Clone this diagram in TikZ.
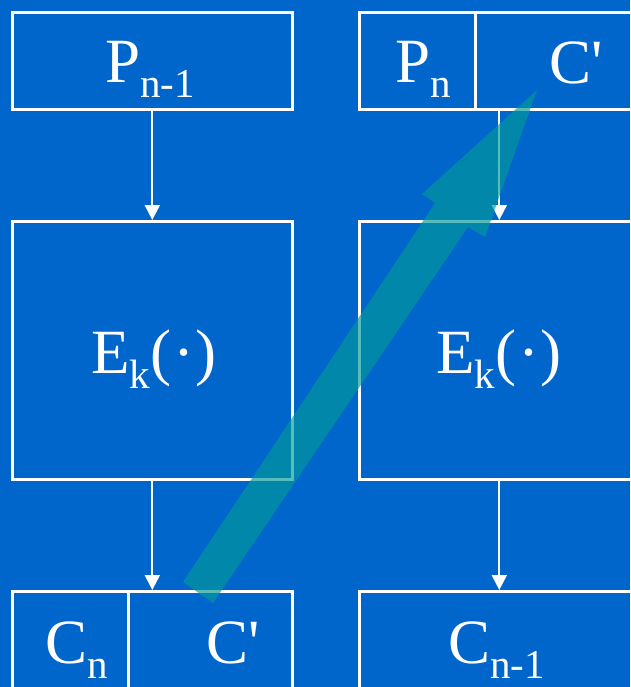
\documentclass[tikz,border=0pt]{standalone}
\usepackage{fontspec}
\newfontfamily\slidefont{Liberation Serif}
\usetikzlibrary{arrows.meta,positioning}

\definecolor{slideblue}{RGB}{0,102,204}
\definecolor{hintteal}{RGB}{0,153,153}
\newcommand{\lowsub}[1]{\raisebox{-15pt}{\fontsize{41}{41}\selectfont #1}}

\begin{document}
\begin{tikzpicture}[
    x=1pt, y=-1pt,
    block/.style={
      draw=white,
      line width=2.6pt,
      inner sep=0pt,
      anchor=north west
    },
    txt/.style={
      text=white,
      inner sep=0pt,
      anchor=base west,
      font=\slidefont\fontsize{63}{63}\selectfont
    },
    flow/.style={-{Triangle[width=15pt,length=15pt]}, draw=white, fill=white, line width=2pt},
    hint/.style={fill=hintteal, fill opacity=0.65}
  ]
    \useasboundingbox (0,0) rectangle (630,687);
    \clip (0,0) rectangle (630,687);
    \fill[slideblue] (0,0) rectangle (630,687);

    % top row
    \node[block, minimum width=280pt, minimum height=97pt] (pprev) at (11,11) {};
    \node[block, minimum width=116pt, minimum height=97pt] (pcur) at (358,11) {};
    \node[block, minimum width=198pt, minimum height=97pt] (ctop) at (474,11) {};

    % encryption
    \node[block, minimum width=280pt, minimum height=258pt] (enc1) at (11,220) {};
    \node[block, minimum width=280pt, minimum height=258pt] (enc2) at (358,220) {};

    % bottom row
    \node[block, minimum width=116pt, minimum height=110pt] (cnb) at (11,590) {};
    \node[block, minimum width=164pt, minimum height=110pt] (cb) at (127,590) {};
    \node[block, minimum width=280pt, minimum height=110pt] (cprev) at (358,590) {};

    \draw[flow] (pprev) -- (enc1);
    \draw[flow] (enc2.north |- pcur.south) -- (enc2.north);
    \draw[flow] (enc1.south) -- (enc1.south |- cb.north);
    \draw[flow] (enc2) -- (cprev);

    \node[txt] (pprevtxt) at (105,83) {P\lowsub{n-1}};
    \node[txt] (pcurtxt) at (395,83) {P\lowsub{n}};
    \node[txt] (ctoptxt) at (549,84) {C'};
    \node[txt] (enc1txt) at (91,373) {E\lowsub{k}(\hspace{2pt}·\hspace{1pt})};
    \node[txt] (enc2txt) at (436,373) {E\lowsub{k}(\hspace{2pt}·\hspace{1pt})};
    \node[txt] (cnbtxt) at (45,663) {C\lowsub{n}};
    \node[txt] (cbtxt) at (206,663) {C'};
    \node[txt] (cprevtxt) at (448,663) {C\lowsub{n-1}};

    % swap hint
    \coordinate (tailL) at (183,582);
    \coordinate (tailR) at (213,603);
    \coordinate (shaftR) at (468,227);
    \coordinate (headR) at (485,237);
    \coordinate (tip) at (537,90);
    \coordinate (headL) at (422,194);
    \coordinate (shaftL) at (435,203);
    \fill[hint] (tailL) -- (tailR) -- (shaftR) -- (headR) -- (tip) -- (headL) -- (shaftL) -- cycle;
  \end{tikzpicture}
\end{document}
